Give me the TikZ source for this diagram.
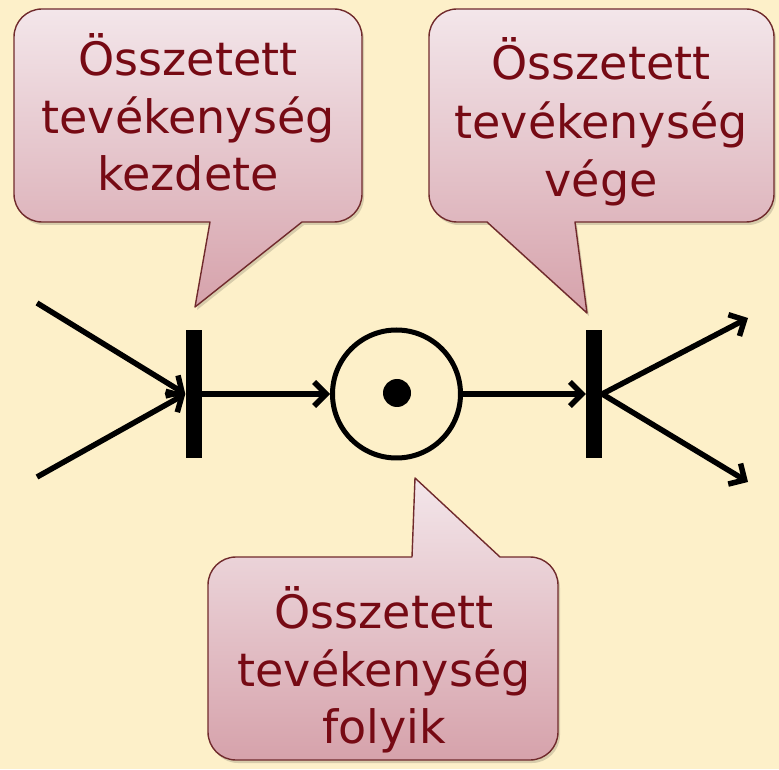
\documentclass[tikz,border=0pt]{standalone}
\usepackage{fontspec}
\setmainfont{DejaVu Sans}
\usetikzlibrary{arrows.meta}

\definecolor{bg}{RGB}{253,240,201}
\definecolor{calltop}{RGB}{243,230,234}
\definecolor{callbot}{RGB}{214,162,171}
\definecolor{calledge}{RGB}{112,42,44}
\definecolor{calltext}{RGB}{118,10,20}

% speech-bubble outlines (rounded box with a pointer)
\newcommand{\bubbleStart}{(42,760) -- (334,760) arc[start angle=90,end angle=0,radius=28]
  -- (362,575) arc[start angle=0,end angle=-90,radius=28]
  -- (302,547) -- (195,462) -- (210,547)
  -- (42,547) arc[start angle=270,end angle=180,radius=28]
  -- (14,732) arc[start angle=180,end angle=90,radius=28] -- cycle}
\newcommand{\bubbleEnd}{(457,760) -- (746,760) arc[start angle=90,end angle=0,radius=28]
  -- (774,575) arc[start angle=0,end angle=-90,radius=28]
  -- (575,547) -- (587,456) -- (487,547)
  -- (457,547) arc[start angle=270,end angle=180,radius=28]
  -- (429,732) arc[start angle=180,end angle=90,radius=28] -- cycle}
\newcommand{\bubbleRun}{(236,212) -- (412,212) -- (415,291) -- (500,212)
  -- (530,212) arc[start angle=90,end angle=0,radius=28]
  -- (558,37) arc[start angle=0,end angle=-90,radius=28]
  -- (236,9) arc[start angle=270,end angle=180,radius=28]
  -- (208,184) arc[start angle=180,end angle=90,radius=28] -- cycle}

\begin{document}
\begin{tikzpicture}[x=1pt,y=1pt,
  callout/.style={top color=calltop,bottom color=callbot,draw=calledge,line width=1.4pt,line join=round},
  calloutshadow/.style={fill=black,opacity=0.15,shift={(2,-3)}},
  calltxt/.style={font=\fontsize{46}{56}\selectfont,text=calltext,anchor=base,inner sep=0},
  bar/.style={fill=black,minimum width=16pt,minimum height=128pt,inner sep=0},
  place/.style={circle,draw=black,line width=5pt,minimum size=128pt,inner sep=0},
  token/.style={circle,fill=black,minimum size=28pt,inner sep=0},
  flow/.style={line width=5.5pt,-{Straight Barb[length=12pt,width=24pt]}}
]
\useasboundingbox (0,0) rectangle (779,769);
\fill[bg] (0,0) rectangle (779,769);

% bubbles
\fill[calloutshadow] \bubbleStart;
\fill[calloutshadow] \bubbleEnd;
\fill[calloutshadow] \bubbleRun;
\path[callout] \bubbleStart;
\path[callout] \bubbleEnd;
\path[callout] \bubbleRun;

% bubble texts
\node[calltxt] (sa) at (188,693) {Összetett};
\node[calltxt] (sb) at (188,635) {tevékenység};
\node[calltxt] (sc) at (188,578) {kezdete};

\node[calltxt] (ea) at (601,689) {Összetett};
\node[calltxt] (eb) at (601,630) {tevékenység};
\node[calltxt] (ec) at (601,572) {vége};

\node[calltxt] (ra) at (384,141) {Összetett};
\node[calltxt] (rb) at (384,83) {tevékenység};
\node[calltxt] (rc) at (384,26) {folyik};

% Petri net
\node[bar] (t1) at (193.5,375) {};
\node[place] (p) at (396.5,375) {};
\node[token] (tok) at (397,376) {};
\node[bar] (t2) at (594,375) {};

\coordinate (in1) at (37,466);
\coordinate (in2) at (37,292);
\coordinate (out1) at (748,451);
\coordinate (out2) at (748,287);

\draw[flow] (in1) -- (t1.west);
\draw[flow] (in2) -- (t1.west);
\draw[flow] (t1.east) -- (p.west);
\draw[flow] (p.east) -- (t2.west);
\draw[flow] (t2.east) -- (out1);
\draw[flow] (t2.east) -- (out2);
\end{tikzpicture}
\end{document}
